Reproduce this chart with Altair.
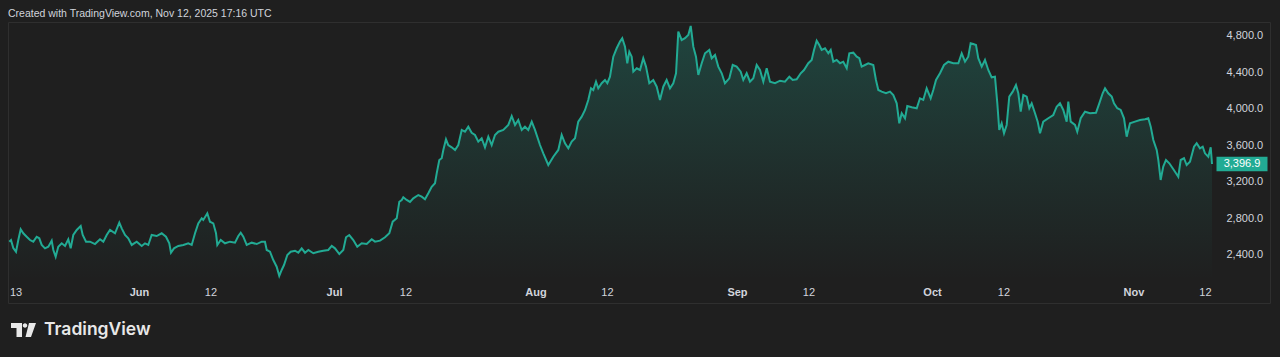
import altair as alt
import pandas as pd

# ---------------- data ----------------
BASE_DATE = "2025-05-12"  # day offsets below are counted from this date (UTC)

days = [
    0.05, 0.31, 0.66, 1.08, 1.43, 1.8, 2.2, 2.72, 3.23, 3.74, 4.26, 4.66, 5.03, 5.54, 6.05,
    6.57, 6.82, 7.18, 7.58, 8.11, 8.62, 9.12, 9.49, 9.89, 10.42, 11.03, 11.34, 11.85, 12.46, 13.23,
    14.0, 14.51, 15.03, 15.54, 16.31, 16.97, 17.34, 17.85, 18.35, 18.88, 19.65, 20.42, 20.92, 21.43, 21.95,
    22.72, 23.49, 24.15, 24.66, 24.92, 25.38, 26.05, 26.82, 27.58, 28.11, 28.62, 29.12, 29.65,
    29.89, 30.51, 30.92, 31.43, 31.85, 32.05, 32.57, 33.23, 34.0, 34.77, 35.28, 35.65, 36.05, 36.57, 37.34,
    38.11, 38.88, 39.38, 39.65, 40.15, 40.66, 41.18, 41.58, 41.95, 42.31, 42.82, 43.34, 44.0, 44.51, 45.03,
    45.54, 46.05, 46.82, 47.58, 48.35, 49.12, 49.65, 50.15, 50.82, 51.43, 51.85, 52.35, 52.97, 53.58, 54.26,
    55.03, 55.8, 56.31, 57.08, 57.85, 58.51, 59.03, 59.65, 60.05, 60.42,
    60.66, 61.18, 61.69, 62.2, 62.97, 63.49, 64.0, 64.51, 65.03, 65.54, 65.8, 66.2, 66.57, 66.82, 67.23,
    67.58, 68.11, 68.62, 69.12, 69.65, 70.15, 70.66, 71.18, 71.69, 72.2, 72.72, 73.23, 73.74, 74.26, 74.77,
    75.28, 76.05, 76.82, 77.34, 77.85, 78.35, 78.88, 79.38, 79.89, 80.42, 80.92, 81.69, 82.2, 82.97, 83.74,
    84.51, 85.03, 85.54, 86.05, 86.57, 87.08, 87.58, 88.11, 88.62, 89.12, 89.54,
    89.89, 90.31, 90.66, 91.18, 91.69, 92.05, 92.46, 92.97, 93.49, 94.0, 94.35, 94.77, 95.12, 95.43, 95.8,
    96.05, 96.57, 97.08, 97.58, 98.0, 98.51, 99.12, 99.65, 100.15, 100.66, 101.18, 101.69, 102.2, 102.62, 102.97,
    103.49, 104.0, 104.51, 104.88, 105.28, 105.69, 106.05, 106.57, 107.08, 107.74, 108.11, 108.62, 109.12, 109.65, 110.15,
    110.82, 111.34, 111.95, 112.57, 112.97, 113.49, 114.0, 114.51, 115.03, 115.54, 116.05, 116.57, 117.08, 117.85, 118.62,
    119.38, 120.05, 120.57, 121.18, 121.8, 122.31, 122.97,
    123.49, 123.85, 124.26, 124.66, 125.03, 125.54, 126.05, 126.42, 126.82, 127.34, 127.85, 128.35, 128.88, 129.28, 129.89,
    130.42, 130.82, 131.18, 131.69, 132.2, 132.97, 133.38, 133.74, 134.26, 134.92, 135.54, 136.05, 136.57, 136.97, 137.34,
    137.85, 138.2, 138.88, 139.65, 140.15, 140.66, 141.18, 141.8, 142.2, 142.62, 143.23, 143.85, 144.51, 145.28, 146.05,
    146.57, 147.08, 147.58, 147.95, 148.35, 148.77, 149.12, 149.65, 150.15, 150.66, 151.18, 151.69, 152.05, 152.35, 152.72,
    153.08, 153.49, 153.89, 154.42, 154.92, 155.28, 155.65, 156.05, 156.57, 156.97, 157.34, 157.85, 158.26, 158.62, 159.12,
    159.89, 160.66, 161.18, 161.69, 162.2, 162.72, 162.97, 163.34, 164.0, 164.35, 164.88, 165.54, 166.31, 167.23, 167.74,
    168.26, 168.62, 169.12, 169.65, 170.0, 170.51, 171.03, 171.54, 171.95, 172.46, 173.23, 174.0, 174.77, 175.28, 175.65,
    176.05, 176.57, 176.82, 177.18, 177.58, 178.0, 178.51, 179.03, 179.54, 179.89, 180.26, 180.77, 181.18, 181.69, 182.31,
    182.72, 183.23, 183.65, 184.0, 184.51, 184.88, 185.08,
]

prices = [
    2546, 2564, 2477, 2436, 2564, 2682, 2638, 2600, 2564, 2546, 2600, 2583, 2510, 2473, 2491,
    2557, 2455, 2381, 2491, 2528, 2499, 2572, 2473, 2619, 2674, 2718, 2619, 2546, 2546, 2520,
    2572, 2546, 2619, 2674, 2638, 2754, 2692, 2619, 2583, 2510, 2546, 2499, 2528, 2510, 2619,
    2608, 2638, 2600, 2528, 2425, 2473, 2499, 2510, 2528, 2510, 2638, 2747, 2802,
    2784, 2857, 2765, 2747, 2638, 2510, 2564, 2528, 2546, 2535, 2608, 2644, 2600, 2510, 2535,
    2520, 2546, 2546, 2455, 2436, 2345, 2272, 2170, 2236, 2290, 2400, 2436, 2447, 2425, 2473,
    2425, 2455, 2419, 2436, 2447, 2455, 2499, 2473, 2411, 2455, 2594, 2619, 2564, 2491, 2528,
    2520, 2572, 2546, 2557, 2594, 2638, 2765, 2802, 2984, 3003,
    3032, 3003, 2981, 3021, 3057, 3039, 3010, 3076, 3148, 3186, 3295, 3441, 3460, 3551, 3668,
    3605, 3580, 3551, 3605, 3770, 3751, 3806, 3740, 3715, 3642, 3679, 3580, 3696, 3605, 3715,
    3751, 3770, 3825, 3923, 3825, 3879, 3770, 3806, 3770, 3861, 3770, 3605, 3514, 3386, 3477,
    3551, 3715, 3624, 3569, 3642, 3679, 3861, 3916, 3989, 4099, 4227,
    4208, 4299, 4227, 4282, 4318, 4282, 4354, 4573, 4665, 4738, 4775, 4683, 4501, 4628, 4573,
    4409, 4446, 4427, 4556, 4464, 4282, 4318, 4244, 4099, 4244, 4318, 4227, 4282, 4391, 4847,
    4756, 4775, 4811, 4910, 4683, 4573, 4373, 4501, 4610, 4647, 4556, 4592, 4464, 4391, 4282,
    4336, 4482, 4464, 4409, 4318, 4391, 4299, 4336, 4482, 4427, 4299, 4446, 4299, 4282, 4310,
    4299, 4354, 4318, 4325, 4391, 4427, 4501,
    4537, 4647, 4748, 4701, 4647, 4665, 4610, 4647, 4518, 4537, 4501, 4518, 4446, 4610, 4617,
    4573, 4556, 4464, 4482, 4501, 4482, 4318, 4208, 4190, 4172, 4190, 4153, 4062, 3843, 3953,
    3898, 4033, 4019, 4008, 4117, 4099, 4227, 4117, 4208, 4318, 4391, 4482, 4518, 4501, 4501,
    4610, 4518, 4573, 4720, 4712, 4701, 4556, 4464, 4537, 4427, 4347, 4354, 4062, 3770, 3843,
    3734, 3825, 4135, 4190, 4263, 4172, 3970, 4153, 4135, 4008, 4062, 3953, 3861, 3734, 3861,
    3898, 3934, 4025, 4062, 3989, 3861, 4080, 3861, 3825, 3751, 3898, 3970, 3953, 3959, 4062,
    4172, 4227, 4172, 4135, 4062, 4008, 3989, 3898, 3696, 3843, 3861, 3879, 3887, 3898, 3806,
    3660, 3551, 3441, 3222, 3368, 3441, 3405, 3350, 3295, 3258, 3441, 3460, 3386, 3422, 3587,
    3624, 3569, 3587, 3514, 3477, 3580, 3396.9,
]

last_price = 3396.9

x_tick_dates = [
    "2025-05-13", "2025-06-01", "2025-06-12", "2025-07-01", "2025-07-12", "2025-08-01",
    "2025-08-12", "2025-09-01", "2025-09-12", "2025-10-01", "2025-10-12", "2025-11-01", "2025-11-12",
]
y_ticks = [2400, 2800, 3200, 3600, 4000, 4400, 4800]
y_domain = [2126, 4953]
x_domain_days = [-0.154, 185.54]

header_text = "Created with TradingView.com, Nov 12, 2025 17:16 UTC"
brand_text = "TradingView"

# ---------------- styling ----------------
BG = "#1f1f1f"
LINE = "#22ab94"
TEXT = "#d1d4dc"
BORDER = "#2f2f2f"
FONT = "Liberation Sans"

W, H = 1207, 258
DAY_MS = 86400000

assert len(days) == len(prices)

base_ms = pd.Timestamp(BASE_DATE, tz="UTC").value // 10**6
df = pd.DataFrame({
    "t": [base_ms + d * DAY_MS for d in days],
    "price": prices,
    "floor": [y_domain[0]] * len(prices),
})
tick_ms = [pd.Timestamp(s, tz="UTC").value // 10**6 for s in x_tick_dates]
x_dom = [base_ms + d * DAY_MS for d in x_domain_days]

x_enc = alt.X(
    "t:T",
    scale=alt.Scale(type="utc", domain=x_dom, nice=False),
    axis=alt.Axis(
        title=None,
        values=tick_ms,
        labelExpr="utcdate(datum.value) == 1 ? utcFormat(datum.value, '%b') : utcFormat(datum.value, '%-d')",
        labelFontWeight={"condition": {"test": "utcdate(datum.value) == 1", "value": "bold"}, "value": "normal"},
        grid=False, domain=False, ticks=False, tickSize=0,
        labelPadding=12, labelBaseline="middle", labelAlign="center",
        labelColor=TEXT, labelFontSize=11, labelFont=FONT, labelOverlap=False,
    ),
)
y_enc = alt.Y(
    "price:Q",
    scale=alt.Scale(domain=y_domain, zero=False, nice=False),
    axis=alt.Axis(
        title=None, orient="right", values=y_ticks, format=",.1f",
        grid=False, domain=False, ticks=False, tickSize=0,
        labelPadding=11, labelAlign="left", labelBaseline="middle",
        labelColor=TEXT, labelFontSize=11, labelFont=FONT,
    ),
)

gradient = alt.Gradient(
    gradient="linear",
    stops=[
        alt.GradientStop(color="rgba(34,171,148,0.27)", offset=0),
        alt.GradientStop(color="rgba(34,171,148,0.10)", offset=0.6),
        alt.GradientStop(color="rgba(34,171,148,0.0)", offset=1),
    ],
    x1=1, x2=1, y1=0, y2=1,
)

base = alt.Chart(df)
area = base.mark_area(color=gradient, clip=True).encode(x=x_enc, y=y_enc, y2=alt.Y2("floor:Q"))
line = base.mark_line(color=LINE, strokeWidth=2).encode(x=x_enc, y=y_enc)

one = alt.Data(values=[{}])

frame = alt.Chart(one).mark_rect(fill=None, stroke=BORDER, strokeWidth=1).encode(
    x=alt.value(0.5), x2=alt.value(1262.5), y=alt.value(0.5), y2=alt.value(281.5)
)

badge_df = pd.DataFrame({"price": [last_price], "label": [f"{last_price:,.1f}"]})
badge = alt.Chart(badge_df).mark_point(
    shape="M-1,-0.28H1V0.28H-1Z", size=51 * 51, filled=True, color=LINE, opacity=1
).encode(x=alt.value(1234), y=alt.Y("price:Q"))
badge_text = alt.Chart(badge_df).mark_text(
    color="#ffffff", fontSize=11, font=FONT, align="center", baseline="middle"
).encode(x=alt.value(1234), y=alt.Y("price:Q"), text="label:N")

header = alt.Chart(one).mark_text(
    text=header_text, color=TEXT, fontSize=10.5, font=FONT, align="left", baseline="middle"
).encode(x=alt.value(0), y=alt.value(-8))

logo_icon = alt.Chart(one).mark_point(
    shape=(
        "M-1,-0.56L-0.12,-0.56L-0.12,0.56L-0.56,0.56L-0.56,-0.16L-1,-0.16Z "
        "M0.30,-0.36A0.18,0.18 0 1,1 -0.06,-0.36A0.18,0.18 0 1,1 0.30,-0.36Z "
        "M0.44,-0.56L1,-0.56L0.6,0.56L0.16,0.56Z"
    ),
    size=625, filled=True, color="#e8e8e8", opacity=1,
).encode(x=alt.value(15.5), y=alt.value(308))

logo_text = alt.Chart(one).mark_text(
    text=brand_text, color="#e8e8e8", fontSize=17.5, font="Inter", fontWeight=600,
    align="left", baseline="middle",
).encode(x=alt.value(36), y=alt.value(308))

chart = alt.layer(
    frame, area, line, badge, badge_text, header, logo_icon, logo_text
).properties(
    width=W, height=H,
    background=BG,
    autosize=alt.AutoSizeParams(type="none"),
    padding={"left": 8, "top": 22, "right": 65, "bottom": 77},
).configure_view(stroke=None)

chart.save("out.html", embed_options={"renderer": "svg", "actions": False})
